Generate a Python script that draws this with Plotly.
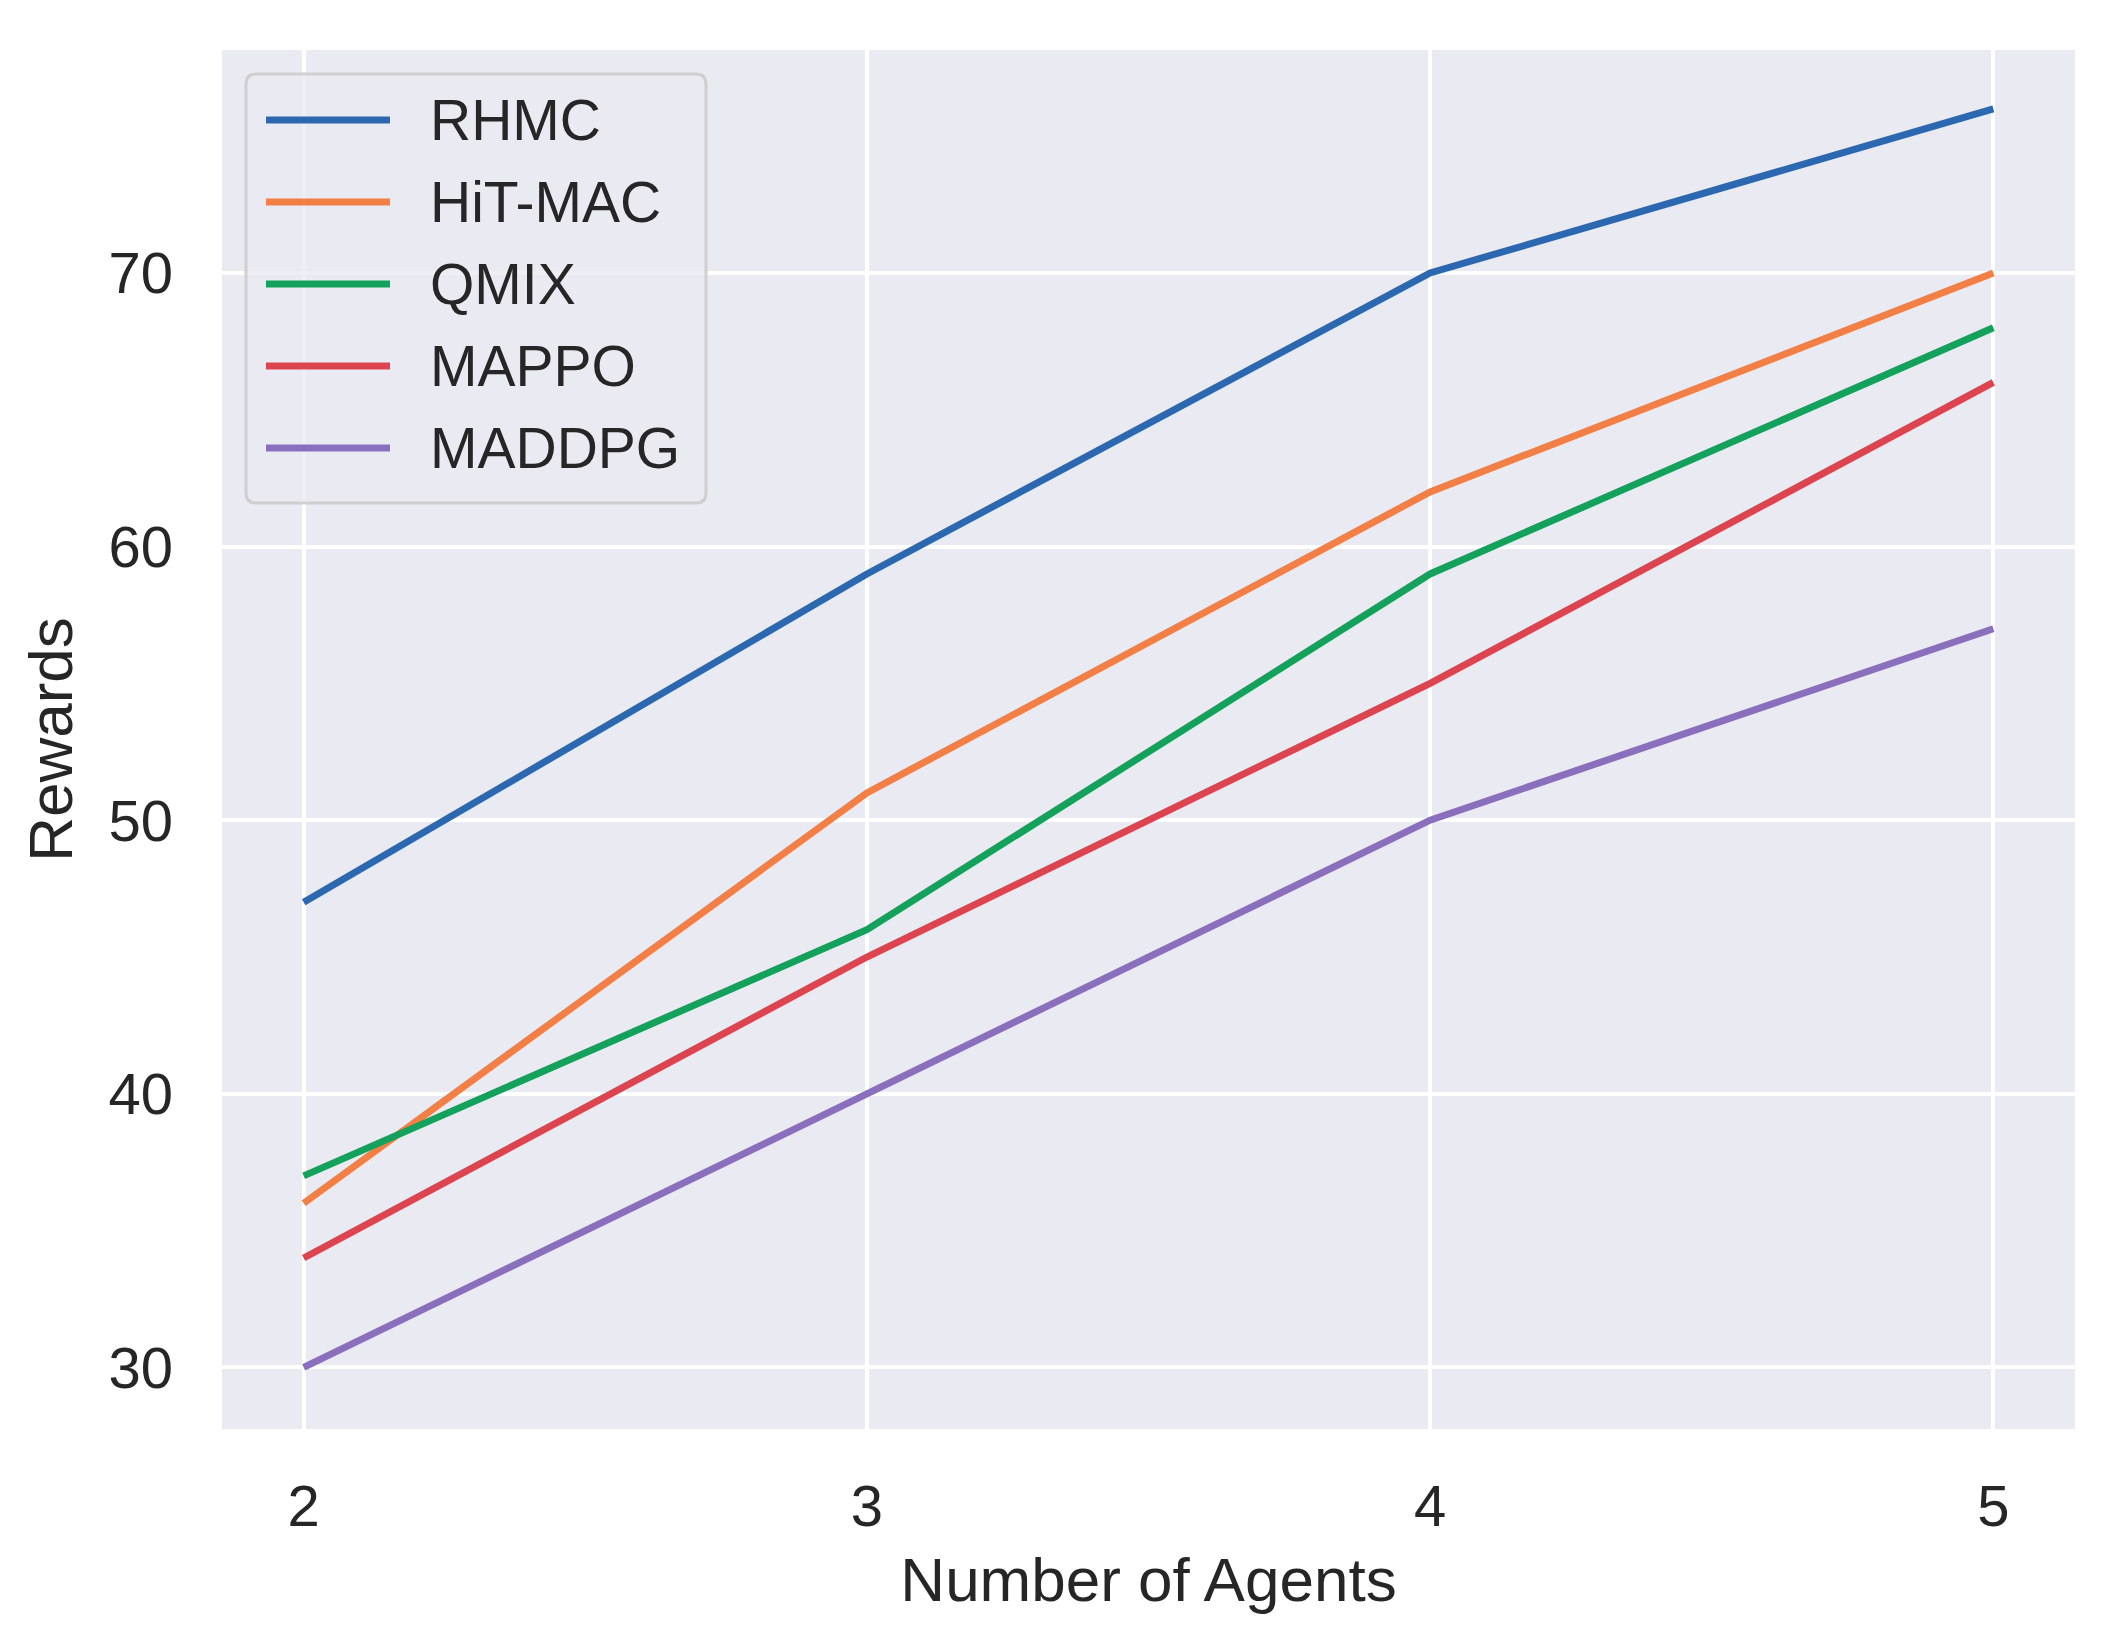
import plotly.graph_objects as go

# ---- data ----
agents = [2, 3, 4, 5]
series_names = ["RHMC", "HiT-MAC", "QMIX", "MAPPO", "MADDPG"]
rhmc = [47, 59, 70, 76]
hitmac = [36, 51, 62, 70]
qmix = [37, 46, 59, 68]
mappo = [34, 45, 55, 66]
maddpg = [30, 40, 50, 57]
series_values = [rhmc, hitmac, qmix, mappo, maddpg]
colors = ["#2C68B0", "#F27F45", "#14A15B", "#DC4550", "#8A70BC"]
x_ticks = [2, 3, 4, 5]
y_ticks = [30, 40, 50, 60, 70]

FONT = "Liberation Sans, Arial, Helvetica, sans-serif"
TXT = "#262626"
OFF = 8  # default page body margin
W, H = 2106 - OFF, 1637 - OFF
# target plot area in page pixels: x 222..2075, y 50..1429
ML, MT = 222 - OFF, 50 - OFF
MR, MB = OFF + W - 2075, OFF + H - 1429

fig = go.Figure()
for name, vals, c in zip(series_names, series_values, colors):
    fig.add_trace(go.Scatter(x=agents, y=vals, mode="lines", name=name,
                             line=dict(color=c, width=7), showlegend=False))

# ---- custom legend (matplotlib style), positions given in page pixels ----
pw, ph = W - ML - MR, H - MT - MB
def px(xp):
    return (xp - OFF - ML) / pw
def py(yp):
    return (OFF + MT + ph - yp) / ph

bx0, bx1, by0, by1 = px(246), px(706), py(503), py(74)
rx, ry = 10 / pw, 10 / ph
path = (f"M {bx0+rx},{by0} L {bx1-rx},{by0} Q {bx1},{by0} {bx1},{by0+ry} "
        f"L {bx1},{by1-ry} Q {bx1},{by1} {bx1-rx},{by1} L {bx0+rx},{by1} "
        f"Q {bx0},{by1} {bx0},{by1-ry} L {bx0},{by0+ry} Q {bx0},{by0} {bx0+rx},{by0} Z")
shapes = [dict(type="path", xref="paper", yref="paper", path=path,
               fillcolor="rgba(234,234,242,0.8)", line=dict(color="#CFCFCF", width=3),
               layer="above")]
annotations = []
first_y, step = 120, 82
for i, (name, c) in enumerate(zip(series_names, colors)):
    yy = py(first_y + i * step)
    shapes.append(dict(type="line", xref="paper", yref="paper",
                       x0=px(266), x1=px(390), y0=yy, y1=yy,
                       line=dict(color=c, width=7), layer="above"))
    annotations.append(dict(xref="paper", yref="paper", x=px(428), y=yy,
                            text=name, showarrow=False, xanchor="left", yanchor="middle",
                            font=dict(family=FONT, size=57, color=TXT)))

fig.update_layout(
    width=W, height=H,
    margin=dict(l=ML, r=MR, t=MT, b=MB, pad=0),
    paper_bgcolor="white", plot_bgcolor="#EAEAF2",
    font=dict(family=FONT, size=57, color=TXT),
    shapes=shapes, annotations=annotations,
    showlegend=False,
)
fig.update_xaxes(range=[1.855, 5.145], tickvals=x_ticks, showgrid=True,
                 gridcolor="white", gridwidth=4, zeroline=False, showline=False,
                 ticks="", ticklabelstandoff=38,
                 tickfont=dict(family=FONT, size=58, color=TXT),
                 title=dict(text="Number of Agents", standoff=20,
                            font=dict(family=FONT, size=62, color=TXT)))
fig.update_yaxes(range=[27.75, 78.15], tickvals=y_ticks, showgrid=True,
                 gridcolor="white", gridwidth=4, zeroline=False, showline=False,
                 ticks="", ticklabelstandoff=48,
                 tickfont=dict(family=FONT, size=58, color=TXT),
                 title=dict(text="Rewards", standoff=15,
                            font=dict(family=FONT, size=62, color=TXT)))

fig.write_html("out.html")
